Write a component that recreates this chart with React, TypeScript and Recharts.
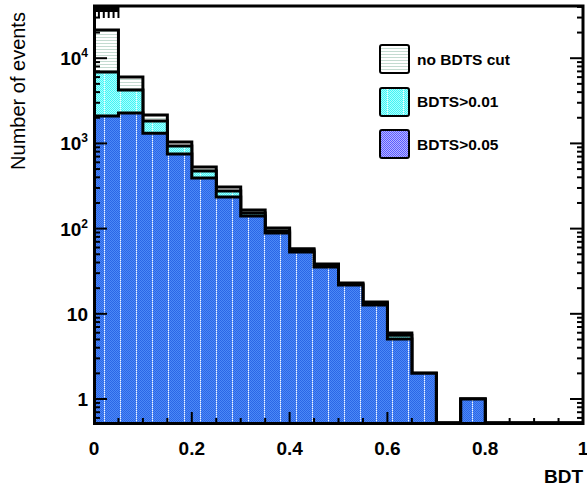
import React from 'react';
import { ComposedChart, Area, XAxis, YAxis } from 'recharts';

// Bin lower edges (BDT), width 0.05
const binEdges = [0, 0.05, 0.1, 0.15, 0.2, 0.25, 0.3, 0.35, 0.4, 0.45, 0.5, 0.55, 0.6, 0.65, 0.7, 0.75, 0.8, 0.85, 0.9, 0.95, 1.0];
// Events per bin
const noCut = [21400, 6010, 2150, 1040, 528, 308, 165, 102, 58, 38.4, 23, 13.8, 5.95, 2, 0, 1, 0, 0, 0, 0];
const cut001 = [6890, 4230, 1830, 932, 474, 276, 152, 94, 56, 36.5, 22.4, 13.2, 5.6, 2, 0, 1, 0, 0, 0, 0];
const cut005 = [2100, 2280, 1320, 751, 393, 235, 141, 89, 53, 35.4, 21.8, 12.7, 5.06, 2, 0, 1, 0, 0, 0, 0];

const seriesNames = ['no BDTS cut', 'BDTS>0.01', 'BDTS>0.05'];
const seriesKeys = ['nocut', 'c001', 'c005'];

const xTicks = [0, 0.05, 0.1, 0.15, 0.2, 0.25, 0.3, 0.35, 0.4, 0.45, 0.5, 0.55, 0.6, 0.65, 0.7, 0.75, 0.8, 0.85, 0.9, 0.95, 1];
const xLabelTicks = [0, 0.2, 0.4, 0.6, 0.8, 1];
const xLabels = ['0', '0.2', '0.4', '0.6', '0.8', '1'];

const yMajorTicks = [1, 10, 100, 1000, 10000];
const yMajorLabels: [string, string][] = [['1', ''], ['10', ''], ['10', '2'], ['10', '3'], ['10', '4']];
const yMinorTicks = [0.6, 0.7, 0.8, 0.9, 2, 3, 4, 5, 6, 7, 8, 9, 20, 30, 40, 50, 60, 70, 80, 90, 200, 300, 400, 500, 600, 700, 800, 900, 2000, 3000, 4000, 5000, 6000, 7000, 8000, 9000, 20000, 30000, 40000];

const Y_MIN = 0.523;
const Y_MAX = 41000;

const rows = binEdges.map((x, i) => {
  const f = (arr: number[]) => (i < arr.length && arr[i] > 0 ? arr[i] : Y_MIN);
  return { x, nocut: f(noCut), c001: f(cut001), c005: f(cut005) };
});

const yTicks = [...yMinorTicks, ...yMajorTicks].sort((a, b) => a - b);

const FONT = '"Liberation Sans", Arial, sans-serif';

const fills = ['url(#pNoCut)', 'url(#pCyan)', 'url(#pBlue)'];
const legendFills = ['url(#pNoCut)', 'url(#pCyan)', 'url(#pLegBlue)'];

const near = (a: number, b: number) => Math.abs(a - b) < 1e-6;

const XTickBottom = (props: any) => {
  const { x, y, payload } = props;
  const v = payload.value;
  const idx = xLabelTicks.findIndex((t) => near(t, v));
  const major = idx >= 0;
  return (
    <g>
      <line x1={x} x2={x} y1={y} y2={y - (major ? 11 : 5)} stroke="#000" strokeWidth={2} />
      {major && (
        <text x={x} y={y + 32} textAnchor="middle" fontFamily={FONT} fontWeight="bold" fontSize={19} fill="#000">
          {xLabels[idx]}
        </text>
      )}
    </g>
  );
};

const XTickTop = (props: any) => {
  const { x, y, payload } = props;
  const major = xLabelTicks.some((t) => near(t, payload.value));
  return <line x1={x} x2={x} y1={y} y2={y + (major ? 12 : 6)} stroke="#000" strokeWidth={2} />;
};

const YTickLeft = (props: any) => {
  const { x, y, payload } = props;
  const v = payload.value;
  const idx = yMajorTicks.findIndex((t) => near(t, v));
  const major = idx >= 0;
  return (
    <g>
      <line x1={x} x2={x + (major ? 13 : 6)} y1={y} y2={y} stroke="#000" strokeWidth={2} />
      {major && (
        <text x={x - 6} y={y + 7} textAnchor="end" fontFamily={FONT} fontWeight="bold" fontSize={19} fill="#000">
          {yMajorLabels[idx][0]}
          {yMajorLabels[idx][1] && (
            <tspan fontSize={12} dy={-8}>
              {yMajorLabels[idx][1]}
            </tspan>
          )}
        </text>
      )}
    </g>
  );
};

const YTickRight = (props: any) => {
  const { x, y, payload } = props;
  const major = yMajorTicks.some((t) => near(t, payload.value));
  return <line x1={x} x2={x - (major ? 13 : 6)} y1={y} y2={y} stroke="#000" strokeWidth={2} />;
};

const YTitle = () => (
  <text transform="translate(25,91) rotate(-90)" textAnchor="middle" fontFamily={FONT} fontSize={20} fill="#000">
    Number of events
  </text>
);

const XTitle = () => (
  <text x={583} y={483} textAnchor="end" fontFamily={FONT} fontWeight="bold" fontSize={19} fill="#000">
    BDT
  </text>
);

const checker = (w: number, h: number, a: string, b: string) => {
  const cells: React.ReactNode[] = [];
  for (let i = 0; i < w; i++) {
    for (let j = 0; j < h; j++) {
      if ((i + j) % 2 === 1) cells.push(<rect key={`${i}-${j}`} x={i} y={j} width={1} height={1} fill={b} />);
    }
  }
  return [<rect key="bg" width={w} height={h} fill={a} />, ...cells];
};

const Patterns = () => (
  <defs>
    <pattern id="pNoCut" width={4} height={3} patternUnits="userSpaceOnUse">
      <rect width={4} height={3} fill="#ffffff" />
      <rect y={1} width={4} height={1} fill="#c4dbd1" />
    </pattern>
    <pattern id="pCyan" width={16} height={2} patternUnits="userSpaceOnUse">
      {checker(16, 2, '#44f4f4', '#a8ffff')}
      <rect x={8} y={0} width={1} height={1} fill="#e8ffff" />
    </pattern>
    <pattern id="pBlue" width={16} height={2} patternUnits="userSpaceOnUse">
      {checker(16, 2, '#2b66e6', '#4c88f6')}
      <rect x={8} y={0} width={1} height={1} fill="#f2f6ff" />
      <rect x={8} y={1} width={1} height={1} fill="#8fb3f6" />
    </pattern>
    <pattern id="pLegBlue" width={2} height={2} patternUnits="userSpaceOnUse">
      {checker(2, 2, '#5c5cff', '#b4b4ff')}
    </pattern>
  </defs>
);

const LegendBox = () => (
  <div style={{ position: 'absolute', left: 379, top: 44, zIndex: 4 }}>
    {seriesNames.map((name, i) => (
      <div key={name} style={{ position: 'absolute', left: 0, top: i * 42.5, display: 'flex', alignItems: 'center', whiteSpace: 'nowrap' }}>
        <svg width={32} height={31} style={{ display: 'block' }}>
          <rect x={1} y={1} width={29} height={28} rx={2} fill={legendFills[i]} stroke="#000" strokeWidth={2} />
        </svg>
        <span style={{ marginLeft: 6, fontFamily: FONT, fontWeight: 'bold', fontSize: 15.5, color: '#000' }}>{name}</span>
      </div>
    ))}
  </div>
);

export default function App() {
  return (
    <div style={{ position: 'absolute', left: 0, top: 0, width: 587, height: 491, background: '#fff' }}>
      {/* Histograms */}
      <div style={{ position: 'absolute', left: 0, top: 0, zIndex: 1 }}>
        <ComposedChart width={587} height={491} data={rows} margin={{ top: 6, right: 4, bottom: 68, left: 94 }}>
          <Patterns />
          <XAxis dataKey="x" type="number" domain={[0, 1]} allowDataOverflow hide />
          <YAxis type="number" scale="log" domain={[Y_MIN, Y_MAX]} allowDataOverflow hide />
          {seriesKeys.map((k, i) => (
            <Area
              key={k}
              type="stepAfter"
              dataKey={k}
              name={seriesNames[i]}
              baseValue={Y_MIN}
              fill={fills[i]}
              fillOpacity={1}
              stroke="#000"
              strokeWidth={3}
              isAnimationActive={false}
              dot={false}
              activeDot={false}
            />
          ))}
        </ComposedChart>
      </div>
      {/* Ticks and labels on top */}
      <div style={{ position: 'absolute', left: 0, top: 0, zIndex: 2, pointerEvents: 'none' }}>
        <ComposedChart width={587} height={491} data={rows} margin={{ top: 5, right: 3, bottom: 0, left: 0 }}>
          <XAxis
            dataKey="x"
            type="number"
            domain={[0, 1]}
            ticks={xTicks}
            interval={0}
            height={68}
            tickSize={0}
            tickMargin={0}
            tick={XTickBottom}
            axisLine={false}
            allowDataOverflow
            label={<XTitle />}
          />
          <XAxis
            xAxisId="top"
            orientation="top"
            type="number"
            domain={[0, 1]}
            ticks={xTicks}
            interval={0}
            height={1}
            tickSize={0}
            tickMargin={0}
            tick={XTickTop}
            axisLine={false}
            allowDataOverflow
          />
          <YAxis
            type="number"
            scale="log"
            domain={[Y_MIN, Y_MAX]}
            ticks={yTicks}
            interval={0}
            width={94}
            tickSize={0}
            tickMargin={0}
            tick={YTickLeft}
            axisLine={false}
            allowDataOverflow
            label={<YTitle />}
          />
          <YAxis
            yAxisId="right"
            orientation="right"
            type="number"
            scale="log"
            domain={[Y_MIN, Y_MAX]}
            ticks={yTicks}
            interval={0}
            width={1}
            tickSize={0}
            tickMargin={0}
            tick={YTickRight}
            axisLine={false}
            allowDataOverflow
          />
        </ComposedChart>
      </div>
      {/* Plot frame */}
      <svg
        width={587}
        height={491}
        style={{ position: 'absolute', left: 0, top: 0, zIndex: 3, pointerEvents: 'none' }}
      >
        <rect x={94.5} y={6} width={488.5} height={417.5} fill="none" stroke="#000" strokeWidth={3} />
      </svg>
      <LegendBox />
    </div>
  );
}
